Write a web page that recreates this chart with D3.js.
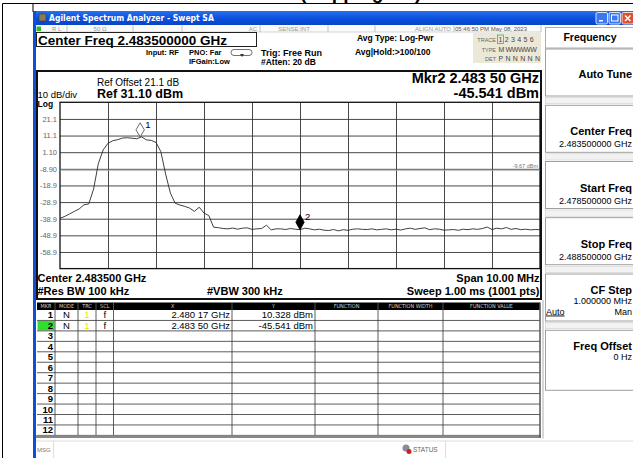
<!DOCTYPE html>
<html>
<head>
<meta charset="utf-8">
<script src="https://cdn.jsdelivr.net/npm/d3@7"></script>
<style>
  html, body { margin: 0; padding: 0; background: #fff; }
  svg { display: block; font-family: "Liberation Sans", Arial, sans-serif; }
</style>
</head>
<body>
<div id="container"></div>
<script>
//### DATA ###
const startFreq = 2478.5;   // MHz
const stopFreq = 2488.5;
const freqStep = 0.1;        // MHz between trace samples
const refLevel = 31.1;       // dBm
const dbPerDiv = 10;
const traceDbm = [
  -38.7, -37.5, -36.0, -34.5, -33.0, -30.5, -30.0, -21.0, -5.6, 2.5,
  6.5, 8.0, 8.6, 9.6, 9.8, 9.5, 9.2, 10.3, 8.5, 8.2,
  7.0, 1.5, -12.0, -23.5, -29.6, -30.7, -31.5, -32.5, -34.5, -32.0,
  -35.5, -37.0, -44.0, -44.3, -44.8, -45.0, -44.5, -45.2, -44.6, -44.4,
  -45.3, -45.0, -44.8, -42.8, -45.6, -45.0, -45.0, -45.4, -44.8, -45.2,
  -45.5, -44.6, -45.0, -45.6, -45.2, -45.8, -46.0, -45.4, -46.2, -45.5,
  -45.9, -45.2, -45.0, -45.3, -45.4, -45.0, -45.6, -45.3, -45.0, -45.6,
  -45.2, -45.7, -45.0, -44.6, -45.3, -44.8, -44.4, -45.5, -45.0, -45.2,
  -45.8, -45.6, -45.4, -45.9, -45.2, -45.5, -45.0, -45.3, -44.8, -43.9,
  -45.4, -44.6, -45.0, -44.2, -45.3, -44.8, -45.5, -45.2, -45.6, -45.4,
  -45.5
];
const yTickLabels = [ '21.1', '11.1', '1.10', '-8.90', '-18.9', '-28.9', '-38.9', '-48.9', '-58.9' ];
const displayLineDbm = -9.67;
const markerIds = [ 1, 2 ];
const markerFreqs = [ 2480.17, 2483.50 ];
const markerDbm = [ 10.328, -45.541 ];
const markerXText = [ '2.480 17 GHz', '2.483 50 GHz' ];
const markerYText = [ '10.328 dBm', '-45.541 dBm' ];

const statusCells = [ 'R L', '50 \u03A9', '', 'AC', 'SENSE:INT', '', 'ALIGN AUTO', '05:46:50 PM May 08, 2023' ];
const tableHeaders = [ 'MKR', 'MODE', 'TRC', 'SCL', 'X', 'Y', 'FUNCTION', 'FUNCTION WIDTH', 'FUNCTION VALUE' ];
const softkeyTitles = [ 'Auto Tune', 'Center Freq', 'Start Freq', 'Stop Freq', 'CF Step', 'Freq Offset' ];
const softkeyValues = [ '', '2.483500000 GHz', '2.478500000 GHz', '2.488500000 GHz', '1.000000 MHz', '0 Hz' ];

//### LAYOUT ###
const W = 633, H = 458;
const plot = { left: 60, right: 540, top: 102.3, bottom: 268.6 };
const blue = '#0d4fd8';

const svg = d3.select( '#container' ).append( 'svg' )
  .attr( 'width', W ).attr( 'height', H );

const defs = svg.append( 'defs' );
const tg = defs.append( 'linearGradient' ).attr( 'id', 'titlebar' ).attr( 'x1', 0 ).attr( 'y1', 0 ).attr( 'x2', 0 ).attr( 'y2', 1 );
tg.append( 'stop' ).attr( 'offset', 0 ).attr( 'stop-color', '#2a70ee' );
tg.append( 'stop' ).attr( 'offset', 0.5 ).attr( 'stop-color', '#0a52e0' );
tg.append( 'stop' ).attr( 'offset', 1 ).attr( 'stop-color', '#0844c8' );

//_____ page frame and cut-off heading _____
svg.append( 'text' ).attr( 'x', 300 ).attr( 'y', -1.5 )
  .style( 'font-size', '19px' ).style( 'font-weight', 'bold' ).text( '(Hopping On)' );
svg.append( 'line' ).attr( 'x1', 2.5 ).attr( 'x2', W ).attr( 'y1', 3.5 ).attr( 'y2', 3.5 ).attr( 'stroke', '#000' );
svg.append( 'line' ).attr( 'x1', 2.5 ).attr( 'x2', 2.5 ).attr( 'y1', 3.5 ).attr( 'y2', H ).attr( 'stroke', '#000' );
svg.append( 'line' ).attr( 'x1', 33 ).attr( 'x2', 33 ).attr( 'y1', 3.5 ).attr( 'y2', 12 ).attr( 'stroke', '#000' );

//_____ window chrome _____
svg.append( 'rect' ).attr( 'x', 33 ).attr( 'y', 11 ).attr( 'width', W - 33 ).attr( 'height', 14 ).attr( 'fill', 'url(#titlebar)' );
svg.append( 'rect' ).attr( 'x', 33 ).attr( 'y', 11 ).attr( 'width', 3 ).attr( 'height', H - 11 ).attr( 'fill', blue );
svg.append( 'rect' ).attr( 'x', 39 ).attr( 'y', 14 ).attr( 'width', 7 ).attr( 'height', 7 ).attr( 'fill', '#8a7a50' ).attr( 'stroke', '#333' ).attr( 'stroke-width', 0.5 );
svg.append( 'text' ).attr( 'x', 49 ).attr( 'y', 21 ).attr( 'fill', '#fff' )
  .style( 'font-size', '8.5px' ).style( 'font-weight', 'bold' ).style( 'font-family', '"DejaVu Sans Condensed","DejaVu Sans",sans-serif' )
  .text( 'Agilent Spectrum Analyzer - Swept SA' );
[ { x: 596, c: '#3b78f0' }, { x: 609, c: '#3b78f0' }, { x: 622, c: '#e0502a' } ].forEach( ( b, i ) => {
  svg.append( 'rect' ).attr( 'x', b.x ).attr( 'y', 12.5 ).attr( 'width', 11.5 ).attr( 'height', 11.5 ).attr( 'rx', 1.5 )
    .attr( 'fill', b.c ).attr( 'stroke', '#fff' ).attr( 'stroke-width', 0.8 );
  if ( i === 0 ) svg.append( 'rect' ).attr( 'x', b.x + 3 ).attr( 'y', 20 ).attr( 'width', 4 ).attr( 'height', 1.5 ).attr( 'fill', '#fff' );
  if ( i === 1 ) svg.append( 'rect' ).attr( 'x', b.x + 2.5 ).attr( 'y', 15 ).attr( 'width', 6.5 ).attr( 'height', 6 ).attr( 'fill', 'none' ).attr( 'stroke', '#fff' ).attr( 'stroke-width', 1 );
  if ( i === 2 ) svg.append( 'path' ).attr( 'd', `M${b.x + 3},15.5L${b.x + 8.5},21M${b.x + 8.5},15.5L${b.x + 3},21` ).attr( 'stroke', '#fff' ).attr( 'stroke-width', 1.5 );
} );

//_____ status row _____
const statusEdges = [ 36, 67, 133, 182, 260, 328, 375, 454, 541 ];
svg.append( 'rect' ).attr( 'x', 36 ).attr( 'y', 25 ).attr( 'width', 505 ).attr( 'height', 7 ).attr( 'fill', '#fafafa' );
statusEdges.slice( 1 ).forEach( x => svg.append( 'line' ).attr( 'x1', x ).attr( 'x2', x ).attr( 'y1', 25.5 ).attr( 'y2', 32 ).attr( 'stroke', '#aaa' ).attr( 'stroke-width', 0.7 ) );
svg.append( 'line' ).attr( 'x1', 36 ).attr( 'x2', 541 ).attr( 'y1', 32 ).attr( 'y2', 32 ).attr( 'stroke', '#bbb' ).attr( 'stroke-width', 0.6 );
svg.append( 'rect' ).attr( 'x', 36.5 ).attr( 'y', 26.5 ).attr( 'width', 4.5 ).attr( 'height', 4.5 ).attr( 'fill', '#2db82d' );
statusCells.forEach( ( t, i ) => {
  const l = statusEdges[ i ], r = statusEdges[ i + 1 ];
  const right = ( i === 3 || i === 6 );
  const x = i === 0 ? 52 : i === 7 ? l + 1 : right ? r - 3 : ( l + r ) / 2;
  svg.append( 'text' ).attr( 'x', x ).attr( 'y', 31 )
    .attr( 'text-anchor', i === 0 || i === 7 ? 'start' : right ? 'end' : 'middle' )
    .attr( 'fill', i === 7 ? '#555' : '#999' ).style( 'font-size', '6px' ).text( t );
} );

//_____ header settings _____
svg.append( 'rect' ).attr( 'x', 36.5 ).attr( 'y', 32.5 ).attr( 'width', 220 ).attr( 'height', 14 ).attr( 'fill', '#fff' ).attr( 'stroke', '#222' ).attr( 'stroke-width', 1 );
svg.append( 'text' ).attr( 'x', 38 ).attr( 'y', 45 ).style( 'font-size', '13.5px' ).style( 'font-weight', 'bold' ).text( 'Center Freq  2.483500000 GHz' );
const small = ( x, y, t, size, anchor ) => svg.append( 'text' ).attr( 'x', x ).attr( 'y', y )
  .attr( 'text-anchor', anchor || 'start' ).style( 'font-size', size + 'px' ).style( 'font-weight', 'bold' ).text( t );
small( 146, 55, 'Input: RF', 7.5 );
small( 189, 55, 'PNO: Far', 7.5 );
small( 189, 64, 'IFGain:Low', 7.5 );
svg.append( 'rect' ).attr( 'x', 231 ).attr( 'y', 49.5 ).attr( 'width', 21 ).attr( 'height', 6 ).attr( 'rx', 3 ).attr( 'fill', 'none' ).attr( 'stroke', '#333' ).attr( 'stroke-width', 0.7 );
svg.append( 'path' ).attr( 'd', 'M240,54L244,54L242,57Z' ).attr( 'fill', '#333' );
small( 261, 56, 'Trig: Free Run', 9 );
small( 261, 65, '#Atten: 20 dB', 8.5 );
small( 357, 41, 'Avg Type: Log-Pwr', 8.5 );
small( 355, 55, 'Avg|Hold:>100/100', 8.5 );

//_____ trace info box _____
svg.append( 'rect' ).attr( 'x', 473 ).attr( 'y', 33 ).attr( 'width', 68 ).attr( 'height', 30 ).attr( 'fill', '#ece8d8' );
const traceInfo = [ [ 'TRACE', '1 2 3 4 5 6', 42 ], [ 'TYPE', 'M WWWWW', 51.5 ], [ 'DET', 'P N N N N N', 60.5 ] ];
traceInfo.forEach( ( r ) => {
  svg.append( 'text' ).attr( 'x', 496 ).attr( 'y', r[ 2 ] ).attr( 'text-anchor', 'end' ).attr( 'fill', '#666' ).style( 'font-size', '5.5px' ).text( r[ 0 ] );
  svg.append( 'text' ).attr( 'x', 498.5 ).attr( 'y', r[ 2 ] ).attr( 'fill', '#444' ).style( 'font-size', '7px' )
    .style( 'letter-spacing', r[ 0 ] === 'TYPE' ? '-0.4px' : '0.2px' ).text( r[ 1 ] );
} );
svg.append( 'rect' ).attr( 'x', 497.5 ).attr( 'y', 35 ).attr( 'width', 6 ).attr( 'height', 8.5 ).attr( 'fill', 'none' ).attr( 'stroke', '#3b3' ).attr( 'stroke-width', 0.8 );

//_____ graph frame _____
svg.append( 'rect' ).attr( 'x', 37 ).attr( 'y', 71 ).attr( 'width', 504 ).attr( 'height', 228 ).attr( 'fill', '#fff' ).attr( 'stroke', '#111' ).attr( 'stroke-width', 2 );
svg.append( 'text' ).attr( 'x', 97 ).attr( 'y', 86 ).style( 'font-size', '10px' ).text( 'Ref Offset 21.1 dB' );
svg.append( 'text' ).attr( 'x', 37.5 ).attr( 'y', 97.5 ).style( 'font-size', '9.5px' ).text( '10 dB/div' );
svg.append( 'text' ).attr( 'x', 97 ).attr( 'y', 98 ).style( 'font-size', '12.5px' ).style( 'font-weight', 'bold' ).text( 'Ref 31.10 dBm' );
svg.append( 'text' ).attr( 'x', 37.5 ).attr( 'y', 106.5 ).style( 'font-size', '8.5px' ).style( 'font-weight', 'bold' ).text( 'Log' );
svg.append( 'text' ).attr( 'x', 539 ).attr( 'y', 83 ).attr( 'text-anchor', 'end' ).style( 'font-size', '14.5px' ).style( 'font-weight', 'bold' ).text( 'Mkr2 2.483 50 GHz' );
svg.append( 'text' ).attr( 'x', 539 ).attr( 'y', 97.5 ).attr( 'text-anchor', 'end' ).style( 'font-size', '14.5px' ).style( 'font-weight', 'bold' ).text( '-45.541 dBm' );

//_____ scales _____
const xScale = d3.scaleLinear().domain( [ startFreq, stopFreq ] ).range( [ plot.left, plot.right ] );
const yScale = d3.scaleLinear().domain( [ refLevel - 10 * dbPerDiv, refLevel ] ).range( [ plot.bottom, plot.top ] );

//_____ graticule _____
const grid = svg.append( 'g' );
grid.append( 'g' ).attr( 'transform', `translate(0,${plot.bottom})` )
  .call( d3.axisBottom( xScale ).tickValues( d3.range( 1, 10 ).map( i => startFreq + i ) ).tickSize( -( plot.bottom - plot.top ) ).tickFormat( '' ) )
  .call( g => g.select( '.domain' ).remove() )
  .call( g => g.selectAll( 'line' ).attr( 'stroke', '#333' ).attr( 'stroke-width', 0.9 ) );
const yTickValues = yTickLabels.map( Number );
grid.append( 'g' ).attr( 'transform', `translate(${plot.left},0)` )
  .call( d3.axisLeft( yScale ).tickValues( yTickValues ).tickSize( -( plot.right - plot.left ) ).tickPadding( 3 ).tickFormat( ( d, i ) => yTickLabels[ i ] ) )
  .call( g => g.select( '.domain' ).remove() )
  .call( g => g.selectAll( 'line' ).attr( 'stroke', '#333' ).attr( 'stroke-width', 0.9 ) )
  .call( g => g.selectAll( 'text' ).attr( 'fill', '#666' ).style( 'font-size', '7.5px' ).style( 'font-family', '"Liberation Sans",Arial,sans-serif' ) );
grid.append( 'rect' ).attr( 'x', plot.left ).attr( 'y', plot.top ).attr( 'width', plot.right - plot.left ).attr( 'height', plot.bottom - plot.top )
  .attr( 'fill', 'none' ).attr( 'stroke', '#111' ).attr( 'stroke-width', 1.3 );

//_____ display line _____
svg.append( 'line' ).attr( 'x1', plot.left ).attr( 'x2', plot.right ).attr( 'y1', yScale( displayLineDbm ) ).attr( 'y2', yScale( displayLineDbm ) )
  .attr( 'stroke', '#999' ).attr( 'stroke-width', 1 );
svg.append( 'text' ).attr( 'x', plot.right - 2 ).attr( 'y', yScale( displayLineDbm ) - 2 ).attr( 'text-anchor', 'end' )
  .attr( 'fill', '#777' ).style( 'font-size', '5.5px' ).text( '-9.67 dBm' );

//_____ trace _____
const line = d3.line().x( ( d, i ) => xScale( startFreq + i * freqStep ) ).y( d => yScale( d ) );
svg.append( 'path' ).datum( traceDbm ).attr( 'd', line ).attr( 'fill', 'none' ).attr( 'stroke', '#2a2a2a' ).attr( 'stroke-width', 0.9 );

//_____ markers _____
markerIds.forEach( ( id, i ) => {
  const mx = xScale( markerFreqs[ i ] ), my = yScale( markerDbm[ i ] );
  const active = id === 2;
  const hw = 4.2, h = active ? 15 : 14;
  svg.append( 'path' ).attr( 'd', `M${mx},${my}L${mx + hw},${my - h / 2}L${mx},${my - h}L${mx - hw},${my - h / 2}Z` )
    .attr( 'fill', active ? '#000' : '#fff' ).attr( 'stroke', active ? '#000' : '#444' ).attr( 'stroke-width', 0.8 );
  svg.append( 'text' ).attr( 'x', mx + 5 ).attr( 'y', my - h + 5 ).style( 'font-size', '9.5px' ).text( id );
} );

//_____ frequency annotations _____
const ann = ( x, y, t, anchor ) => svg.append( 'text' ).attr( 'x', x ).attr( 'y', y ).attr( 'text-anchor', anchor )
  .style( 'font-size', '11px' ).style( 'font-weight', 'bold' ).text( t );
ann( 37.5, 281.5, 'Center 2.483500 GHz', 'start' );
ann( 37.5, 295, '#Res BW 100 kHz', 'start' );
ann( 207, 295, '#VBW 300 kHz', 'start' );
ann( 539.5, 281.5, 'Span 10.00 MHz', 'end' );
ann( 539.5, 295, 'Sweep  1.00 ms (1001 pts)', 'end' );

//_____ marker table _____
const colEdges = [ 37, 55, 78, 96, 113.5, 232, 315, 378, 443, 540 ];
const headTop = 302.5, headH = 7.5, rowH = 10.45, nRows = 12;
const tbl = svg.append( 'g' );
tbl.append( 'rect' ).attr( 'x', colEdges[ 0 ] ).attr( 'y', headTop ).attr( 'width', colEdges[ 9 ] - colEdges[ 0 ] ).attr( 'height', headH ).attr( 'fill', '#000' );
tableHeaders.forEach( ( t, i ) => {
  tbl.append( 'text' ).attr( 'x', ( colEdges[ i ] + colEdges[ i + 1 ] ) / 2 ).attr( 'y', headTop + 5.8 ).attr( 'text-anchor', 'middle' )
    .attr( 'fill', '#ccc' ).style( 'font-size', '5.5px' ).style( 'font-family', '"DejaVu Sans Condensed",sans-serif' ).text( t );
  if ( i > 0 ) tbl.append( 'line' ).attr( 'x1', colEdges[ i ] ).attr( 'x2', colEdges[ i ] ).attr( 'y1', headTop ).attr( 'y2', headTop + headH )
    .attr( 'stroke', '#888' ).attr( 'stroke-width', 0.6 );
} );
const rowsTop = headTop + headH;
const rows = d3.range( 1, nRows + 1 );
rows.forEach( ( r, i ) => {
  const y0 = rowsTop + i * rowH;
  if ( r === 2 ) tbl.append( 'rect' ).attr( 'x', colEdges[ 0 ] + 0.5 ).attr( 'y', y0 + 0.5 ).attr( 'width', colEdges[ 1 ] - colEdges[ 0 ] - 1 ).attr( 'height', rowH - 1 ).attr( 'fill', '#2ee02e' );
  tbl.append( 'line' ).attr( 'x1', colEdges[ 0 ] ).attr( 'x2', colEdges[ 9 ] ).attr( 'y1', y0 + rowH ).attr( 'y2', y0 + rowH ).attr( 'stroke', '#333' ).attr( 'stroke-width', 0.8 );
  const ty = y0 + rowH - 2;
  tbl.append( 'text' ).attr( 'x', colEdges[ 1 ] - 2 ).attr( 'y', ty ).attr( 'text-anchor', 'end' )
    .style( 'font-size', '9.5px' ).style( 'font-weight', 'bold' ).text( r );
  const m = markerIds.indexOf( r );
  if ( m >= 0 ) {
    tbl.append( 'text' ).attr( 'x', ( colEdges[ 1 ] + colEdges[ 2 ] ) / 2 ).attr( 'y', ty ).attr( 'text-anchor', 'middle' ).style( 'font-size', '9.5px' ).text( 'N' );
    tbl.append( 'text' ).attr( 'x', ( colEdges[ 2 ] + colEdges[ 3 ] ) / 2 ).attr( 'y', ty ).attr( 'text-anchor', 'middle' ).attr( 'fill', '#e6e600' ).style( 'font-size', '9.5px' ).text( '1' );
    tbl.append( 'text' ).attr( 'x', ( colEdges[ 3 ] + colEdges[ 4 ] ) / 2 ).attr( 'y', ty ).attr( 'text-anchor', 'middle' ).style( 'font-size', '9.5px' ).text( 'f' );
    tbl.append( 'text' ).attr( 'x', colEdges[ 5 ] - 2 ).attr( 'y', ty ).attr( 'text-anchor', 'end' ).style( 'font-size', '9.5px' ).text( markerXText[ m ] );
    tbl.append( 'text' ).attr( 'x', colEdges[ 6 ] - 2 ).attr( 'y', ty ).attr( 'text-anchor', 'end' ).style( 'font-size', '9.5px' ).text( markerYText[ m ] );
  }
} );
const tableBottom = rowsTop + nRows * rowH;
colEdges.slice( 1, 9 ).forEach( x => tbl.append( 'line' ).attr( 'x1', x ).attr( 'x2', x ).attr( 'y1', rowsTop ).attr( 'y2', tableBottom ).attr( 'stroke', '#333' ).attr( 'stroke-width', 0.8 ) );
tbl.append( 'line' ).attr( 'x1', 36 ).attr( 'x2', 541 ).attr( 'y1', tableBottom + 1.2 ).attr( 'y2', tableBottom + 1.2 ).attr( 'stroke', '#888' ).attr( 'stroke-width', 2.6 );
tbl.append( 'line' ).attr( 'x1', 540 ).attr( 'x2', 540 ).attr( 'y1', headTop ).attr( 'y2', tableBottom + 2 ).attr( 'stroke', '#555' ).attr( 'stroke-width', 1.5 );
tbl.append( 'line' ).attr( 'x1', 543 ).attr( 'x2', 543 ).attr( 'y1', 300 ).attr( 'y2', tableBottom + 3 ).attr( 'stroke', '#bbb' ).attr( 'stroke-width', 1.2 );

//_____ message bar _____
svg.append( 'line' ).attr( 'x1', 36 ).attr( 'x2', W ).attr( 'y1', 441 ).attr( 'y2', 441 ).attr( 'stroke', '#ddd' ).attr( 'stroke-width', 1 );
svg.append( 'text' ).attr( 'x', 37 ).attr( 'y', 452 ).attr( 'fill', '#777' ).style( 'font-size', '6px' ).text( 'MSG' );
svg.append( 'line' ).attr( 'x1', 53.5 ).attr( 'x2', 53.5 ).attr( 'y1', 441 ).attr( 'y2', H ).attr( 'stroke', '#ddd' );
svg.append( 'line' ).attr( 'x1', 445.5 ).attr( 'x2', 445.5 ).attr( 'y1', 441 ).attr( 'y2', H ).attr( 'stroke', '#ddd' );
svg.append( 'circle' ).attr( 'cx', 406 ).attr( 'cy', 448 ).attr( 'r', 3.5 ).attr( 'fill', '#8a8a9a' );
svg.append( 'circle' ).attr( 'cx', 409 ).attr( 'cy', 451.5 ).attr( 'r', 2.5 ).attr( 'fill', '#d02020' );
svg.append( 'text' ).attr( 'x', 413 ).attr( 'y', 452 ).attr( 'fill', '#666' ).style( 'font-size', '6.5px' ).text( 'STATUS' );

//_____ softkey panel _____
const panel = svg.append( 'g' );
panel.append( 'rect' ).attr( 'x', 545.5 ).attr( 'y', 27.5 ).attr( 'width', 90 ).attr( 'height', 20.5 ).attr( 'fill', '#fff' ).attr( 'stroke', '#999' ).attr( 'stroke-width', 0.8 );
panel.append( 'text' ).attr( 'x', 590 ).attr( 'y', 40.5 ).attr( 'text-anchor', 'middle' ).style( 'font-size', '10.5px' ).style( 'font-weight', 'bold' ).text( 'Frequency' );
softkeyTitles.forEach( ( t, i ) => {
  const top = 49 + i * 56.25;
  const kh = i === 5 ? 60 : 47;
  panel.append( 'rect' ).attr( 'x', 545.5 ).attr( 'y', top ).attr( 'width', 90 ).attr( 'height', kh ).attr( 'fill', '#fff' ).attr( 'stroke', '#888' ).attr( 'stroke-width', 0.8 );
  if ( i < 5 ) panel.append( 'rect' ).attr( 'x', 545.5 ).attr( 'y', top + kh + 1.5 ).attr( 'width', 90 ).attr( 'height', 56.25 - kh - 3 ).attr( 'fill', '#f2f2f2' ).attr( 'stroke', '#ccc' ).attr( 'stroke-width', 0.6 );
  const threeLine = i >= 4;
  const ty = i === 0 ? top + 29 : threeLine ? top + 20 : top + 30;
  panel.append( 'text' ).attr( 'x', 632 ).attr( 'y', ty ).attr( 'text-anchor', 'end' ).style( 'font-size', '11px' ).style( 'font-weight', 'bold' ).text( t );
  if ( softkeyValues[ i ] ) panel.append( 'text' ).attr( 'x', 632 ).attr( 'y', threeLine ? top + 29.5 : top + 42 ).attr( 'text-anchor', 'end' ).style( 'font-size', '9px' ).text( softkeyValues[ i ] );
  if ( i === 4 ) {
    panel.append( 'text' ).attr( 'x', 546 ).attr( 'y', top + 40.5 ).style( 'font-size', '9px' ).style( 'text-decoration', 'underline' ).text( 'Auto' );
    panel.append( 'text' ).attr( 'x', 632 ).attr( 'y', top + 40.5 ).attr( 'text-anchor', 'end' ).style( 'font-size', '9px' ).text( 'Man' );
  }
} );
</script>
</body>
</html>
